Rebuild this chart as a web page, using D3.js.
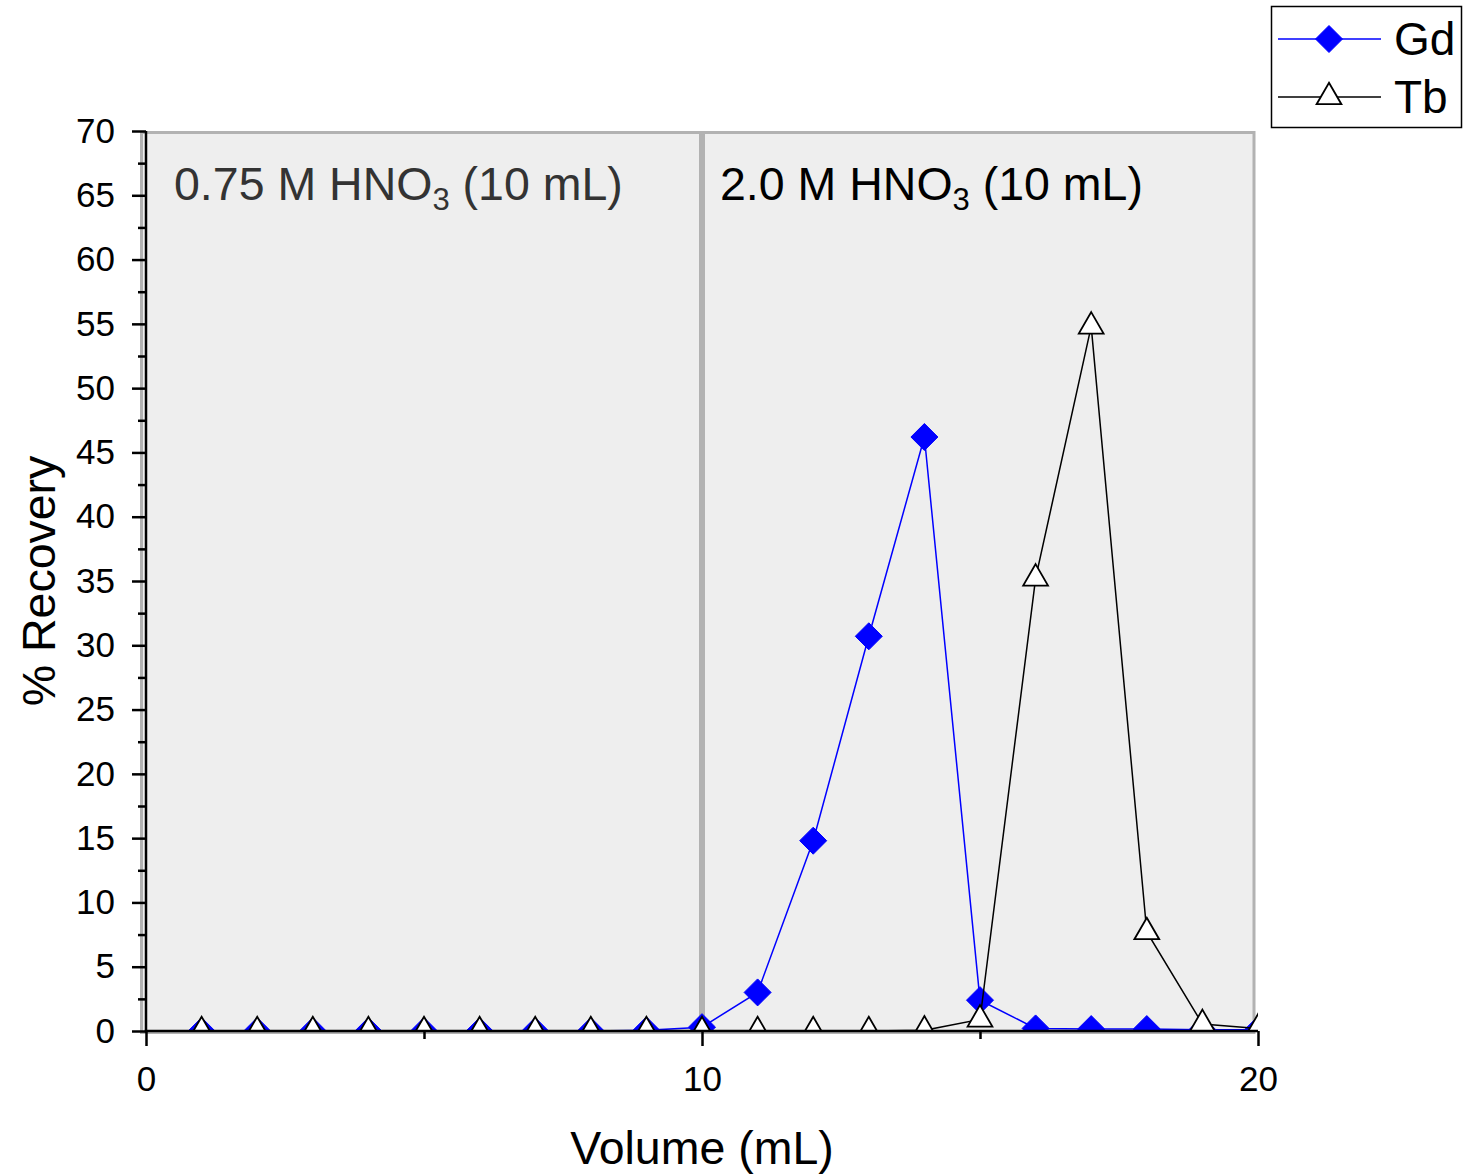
<!DOCTYPE html>
<html>
<head>
<meta charset="utf-8">
<script src="https://cdn.jsdelivr.net/npm/d3@7"></script>
<style>
  html, body { margin: 0; padding: 0; background: #fff; }
  svg { display: block; font-family: "Liberation Sans", Arial, sans-serif; }
</style>
</head>
<body>
<svg id="chart" width="1466" height="1174"></svg>
<script>
// ---------- data ----------
const volume = [1, 2, 3, 4, 5, 6, 7, 8, 9, 10, 11, 12, 13, 14, 15, 16, 17, 18, 19, 20];
const gdRecovery = [0, 0, 0, 0, 0, 0, 0, 0, 0.05, 0.3, 3.0, 14.8, 30.7, 46.2, 2.4, 0.2, 0.15, 0.15, 0.1, 0.1];
const tbRecovery = [0, 0, 0, 0, 0, 0, 0, 0, 0, 0, 0, 0, 0, 0.05, 0.9, 35.2, 54.8, 7.7, 0.55, 0.2];
const seriesNames = ["Gd", "Tb"];
const xTicks = [0, 10, 20];
const xMinorTicks = [5, 15];
const yTicks = [0, 5, 10, 15, 20, 25, 30, 35, 40, 45, 50, 55, 60, 65, 70];
const yMinorTicks = [2.5, 7.5, 12.5, 17.5, 22.5, 27.5, 32.5, 37.5, 42.5, 47.5, 52.5, 57.5, 62.5, 67.5];
const regionStarts = [0, 10];
const regionEnds = [10, 20];
const regionAcid = ["0.75 M HNO", "2.0 M HNO"];
const regionSub = ["3", "3"];
const regionVol = [" (10 mL)", " (10 mL)"];
const xTitle = "Volume (mL)";
const yTitle = "% Recovery";

// ---------- layout ----------
const svg = d3.select("#chart");
const x = d3.scaleLinear().domain([0, 20]).range([146, 1258]);
const y = d3.scaleLinear().domain([0, 70]).range([1031, 131]);

// ---------- shaded regions ----------
const regions = regionStarts.map((s, i) => ({ s, e: regionEnds[i], acid: regionAcid[i], sub: regionSub[i], vol: regionVol[i], i }));
const regionG = svg.append("g");
regionG.selectAll("rect").data(regions).join("rect")
  .attr("x", d => d.i === 0 ? x(d.s) - 4.5 : x(d.s) + 1.5)
  .attr("y", y(70) + 1.5)
  .attr("width", d => d.i === 0 ? (x(d.e) - 1.5) - (x(d.s) - 4.5) : (x(d.e) - 4) - (x(d.s) + 1.5))
  .attr("height", y(0) - y(70))
  .attr("fill", "#eeeeee")
  .attr("stroke", "#b2b2b2")
  .attr("stroke-width", 3);

const labels = regionG.selectAll("text").data(regions).join("text")
  .attr("x", d => d.i === 0 ? x(d.s) + 28 : x(d.s) + 18)
  .attr("y", 200)
  .attr("font-size", 46.5)
  .attr("fill", d => d.i === 0 ? "#333333" : "#000000");
labels.append("tspan").text(d => d.acid);
labels.append("tspan").attr("font-size", 31).attr("dy", 10).text(d => d.sub);
labels.append("tspan").attr("dy", -10).text(d => d.vol);

// ---------- data marks ----------
const clip = svg.append("clipPath").attr("id", "plotclip");
clip.append("rect").attr("x", x(0)).attr("y", y(70)).attr("width", x(20) - x(0)).attr("height", y(0) - y(70));

const plot = svg.append("g").attr("clip-path", "url(#plotclip)");
const diamondPath = "M0,-13.5L13.5,0L0,13.5L-13.5,0Z";
const trianglePath = "M0,-14.3L12.4,7.2L-12.4,7.2Z";

const gdData = volume.map((v, i) => ({ v, r: gdRecovery[i] }));
const tbData = volume.map((v, i) => ({ v, r: tbRecovery[i] }));
const line = d3.line().x(d => x(d.v)).y(d => y(d.r));

plot.append("path").datum(gdData).attr("d", line)
  .attr("fill", "none").attr("stroke", "#0000ff").attr("stroke-width", 1.5);
plot.selectAll(".gd").data(gdData).join("path").attr("class", "gd")
  .attr("d", diamondPath)
  .attr("transform", d => `translate(${x(d.v)},${y(d.r)})`)
  .attr("fill", "#0000ff").attr("stroke", "#0000ff").attr("stroke-width", 1);

plot.append("path").datum(tbData).attr("d", line)
  .attr("fill", "none").attr("stroke", "#000000").attr("stroke-width", 1.5);
plot.selectAll(".tb").data(tbData).join("path").attr("class", "tb")
  .attr("d", trianglePath)
  .attr("transform", d => `translate(${x(d.v)},${y(d.r)})`)
  .attr("fill", "#ffffff").attr("stroke", "#000000").attr("stroke-width", 1.8);

// ---------- axes ----------
const yAxis = svg.append("g").attr("transform", `translate(${x(0)},0)`)
  .call(d3.axisLeft(y).tickValues(yTicks).tickSize(14).tickPadding(17).tickSizeOuter(0).tickFormat(d3.format("d")));
yAxis.select(".domain").remove();
svg.append("g").attr("transform", `translate(${x(0)},0)`)
  .call(d3.axisLeft(y).tickValues(yMinorTicks).tickSize(8).tickSizeOuter(0).tickFormat(""))
  .select(".domain").remove();

const xAxis = svg.append("g").attr("transform", `translate(0,${y(0)})`)
  .call(d3.axisBottom(x).tickValues(xTicks).tickSize(15).tickPadding(20).tickSizeOuter(0).tickFormat(d3.format("d")));
xAxis.select(".domain").remove();
svg.append("g").attr("transform", `translate(0,${y(0)})`)
  .call(d3.axisBottom(x).tickValues(xMinorTicks).tickSize(8).tickSizeOuter(0).tickFormat(""))
  .select(".domain").remove();

svg.selectAll(".tick line").attr("stroke", "#000").attr("stroke-width", 2.5);
svg.selectAll(".tick text").attr("font-size", 35).attr("fill", "#000")
  .attr("font-family", "'Liberation Sans', Arial, sans-serif");

// axis lines
svg.append("line").attr("x1", x(0)).attr("x2", x(0)).attr("y1", y(70)).attr("y2", y(0) + 1.25)
  .attr("stroke", "#000").attr("stroke-width", 2.5);
svg.append("line").attr("x1", x(0) - 1.25).attr("x2", x(20)).attr("y1", y(0)).attr("y2", y(0))
  .attr("stroke", "#000").attr("stroke-width", 2.5);

// titles
svg.append("text").attr("x", (x(0) + x(20)) / 2).attr("y", 1164)
  .attr("text-anchor", "middle").attr("font-size", 46.5).text(xTitle);
svg.append("text").attr("transform", `translate(55,${(y(0) + y(70)) / 2}) rotate(-90)`)
  .attr("text-anchor", "middle").attr("font-size", 46.5).text(yTitle);

// ---------- legend ----------
const lg = svg.append("g");
lg.append("rect").attr("x", 1271.5).attr("y", 6.5).attr("width", 190).attr("height", 121)
  .attr("fill", "#fff").attr("stroke", "#000").attr("stroke-width", 1.5);
const legendItems = [
  { name: seriesNames[0], color: "#0000ff", marker: diamondPath, fill: "#0000ff", sw: 1, y: 39 },
  { name: seriesNames[1], color: "#000000", marker: trianglePath, fill: "#ffffff", sw: 1.8, y: 97 }
];
legendItems.forEach(it => {
  lg.append("line").attr("x1", 1278).attr("x2", 1381).attr("y1", it.y).attr("y2", it.y)
    .attr("stroke", it.color).attr("stroke-width", 1.5);
  lg.append("path").attr("d", it.marker).attr("transform", `translate(1329,${it.y})`)
    .attr("fill", it.fill).attr("stroke", it.color).attr("stroke-width", it.sw);
  lg.append("text").attr("x", 1394).attr("y", it.y + 16).attr("font-size", 46).text(it.name);
});
</script>
</body>
</html>
